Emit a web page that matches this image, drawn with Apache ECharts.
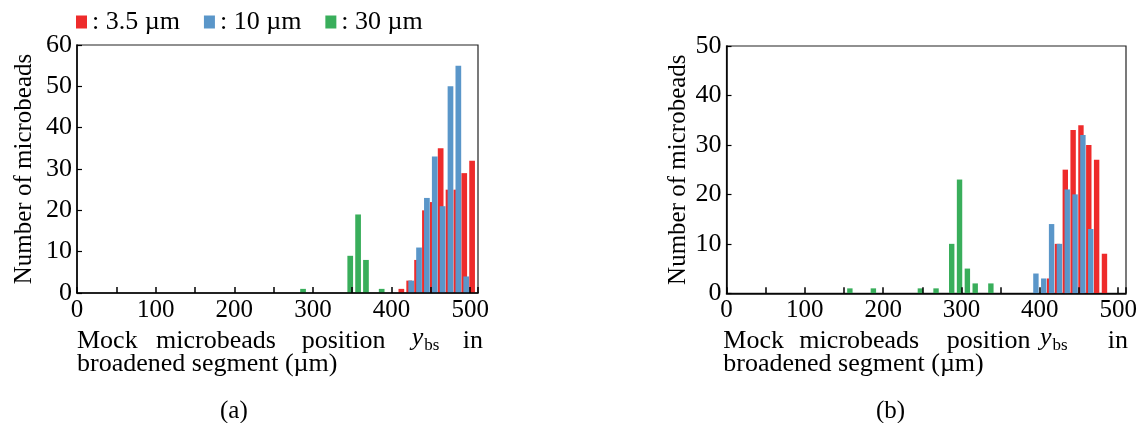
<!DOCTYPE html>
<html>
<head>
<meta charset="utf-8">
<script src="https://cdn.jsdelivr.net/npm/echarts@6.0.0/dist/echarts.min.js"></script>
<style>
  html, body { margin: 0; background: #fff; }
  #chart { width: 1146px; height: 423px; }
</style>
</head>
<body>
<div id="chart"></div>
<script>
// bin positions (µm) and counts
const sizes = ["3.5 µm", "10 µm", "30 µm"];
const colors = ["#EE2B2B", "#5A96C9", "#39AE5B"];

// (a)
const redPosA = [412.5, 422.5, 432.5, 442.5, 452.5, 462.5, 472.5, 482.5, 492.5, 502.5];
const redCntA = [1, 3, 8, 20, 22, 35, 25, 25, 29, 32];
const bluePosA = [425, 435, 445, 455, 465, 475, 485, 495];
const blueCntA = [3, 11, 23, 33, 21, 50, 55, 4];
const greenPosA = [287.5, 347.5, 357.5, 367.5, 387.5];
const greenCntA = [1, 9, 19, 8, 1];

// (b)
const redPosB = [412.5, 422.5, 432.5, 442.5, 452.5, 462.5, 472.5, 482.5];
const redCntB = [3, 10, 25, 33, 34, 30, 27, 8];
const bluePosB = [395, 405, 415, 425, 435, 445, 455, 465];
const blueCntB = [4, 3, 14, 10, 21, 20, 32, 13];
const greenPosB = [157.5, 187.5, 247.5, 267.5, 287.5, 297.5, 307.5, 317.5, 337.5];
const greenCntB = [1, 1, 1, 1, 10, 23, 5, 2, 2];

const yMaxA = 60;
const yMaxB = 50;

const FONT = "Liberation Serif";
var chart = echarts.init(document.getElementById("chart"));

function bars(idx, k, pos, cnt, w) {
  return {
    name: sizes[k],
    type: "bar",
    xAxisIndex: idx,
    yAxisIndex: idx,
    barWidth: w,
    barGap: "-100%",
    itemStyle: { color: colors[k] },
    data: pos.map((p, i) => [p, cnt[i]])
  };
}

function xAxis(idx) {
  return {
    type: "value",
    gridIndex: idx,
    min: 0,
    max: 510,
    interval: 50,
    z: 5,
    axisLine: { show: true, lineStyle: { color: "#000", width: 1.5 } },
    axisTick: { show: true, inside: true, length: 6, lineStyle: { color: "#000", width: 1.5 } },
    axisLabel: {
      color: "#000",
      fontFamily: FONT,
      fontSize: 25,
      margin: 5,
      formatter: v => (v % 100 === 0 ? v : "")
    },
    splitLine: { show: false }
  };
}

function yAxis(idx, max, gap) {
  return {
    type: "value",
    gridIndex: idx,
    min: 0,
    max: max,
    interval: 10,
    z: 5,
    name: "Number of microbeads",
    nameLocation: "middle",
    nameGap: gap,
    nameTextStyle: { color: "#000", fontFamily: FONT, fontSize: 25 },
    axisLine: { show: true, lineStyle: { color: "#000", width: 1.5 } },
    axisTick: { show: true, inside: true, length: 5, lineStyle: { color: "#000", width: 1.2 } },
    axisLabel: { color: "#000", fontFamily: FONT, fontSize: 26, margin: 5 },
    splitLine: { show: false }
  };
}

// justified axis title, word by word
function xTitle(words, lineLeft, inRight) {
  var els = [];
  var base = { fill: "#000", font: "26px " + FONT };
  words.forEach(function (w) {
    els.push({ type: "text", left: w[1], top: 328, style: Object.assign({ text: w[0] }, base) });
  });
  els.push({
    type: "text", right: 1146 - inRight, top: 328,
    style: Object.assign({ text: "in" }, base)
  });
  els.push({
    type: "text", left: lineLeft, top: 351,
    style: Object.assign({ text: "broadened segment (µm)" }, base)
  });
  return els;
}

function ybs(x) {
  return {
    type: "text", left: x, top: 325,
    style: {
      text: "{i|y}{s|bs}",
      rich: {
        i: { fontFamily: FONT, fontStyle: "italic", fontSize: 26, lineHeight: 32, fill: "#000" },
        s: { fontFamily: FONT, fontSize: 17, lineHeight: 32, verticalAlign: "bottom", padding: [0, 0, 0, 1], fill: "#000" }
      }
    }
  };
}

var option = {
  animation: false,
  legend: {
    left: 76,
    top: 9,
    padding: 0,
    icon: "rect",
    itemWidth: 11,
    itemHeight: 13,
    itemGap: 24,
    data: sizes,
    formatter: ": {name}",
    textStyle: { color: "#000", fontFamily: FONT, fontSize: 26 }
  },
  grid: [
    { left: 77, top: 45, width: 401, height: 248, show: true, borderColor: "#222", borderWidth: 1.2, backgroundColor: "transparent" },
    { left: 726.5, top: 46, width: 399.5, height: 247.3, show: true, borderColor: "#222", borderWidth: 1.2, backgroundColor: "transparent" }
  ],
  xAxis: [xAxis(0), xAxis(1)],
  yAxis: [yAxis(0, yMaxA, 40), yAxis(1, yMaxB, 36)],
  series: [
    bars(0, 0, redPosA, redCntA, 5.7),
    bars(0, 1, bluePosA, blueCntA, 5.7),
    bars(0, 2, greenPosA, greenCntA, 5.7),
    bars(1, 0, redPosB, redCntB, 5.4),
    bars(1, 1, bluePosB, blueCntB, 5.4),
    bars(1, 2, greenPosB, greenCntB, 5.4)
  ],
  graphic: [].concat(
    xTitle([["Mock", 77], ["microbeads", 156], ["position", 301.7]], 77, 483),
    [ybs(411.7)],
    xTitle([["Mock", 723.3], ["microbeads", 799.3], ["position", 946.7]], 723.3, 1128),
    [ybs(1040)],
    [
      { type: "text", left: 220, top: 399, style: { text: "(a)", fill: "#000", font: "25px " + FONT } },
      { type: "text", left: 876, top: 399, style: { text: "(b)", fill: "#000", font: "25px " + FONT } }
    ]
  )
};
chart.setOption(option);
</script>
</body>
</html>
